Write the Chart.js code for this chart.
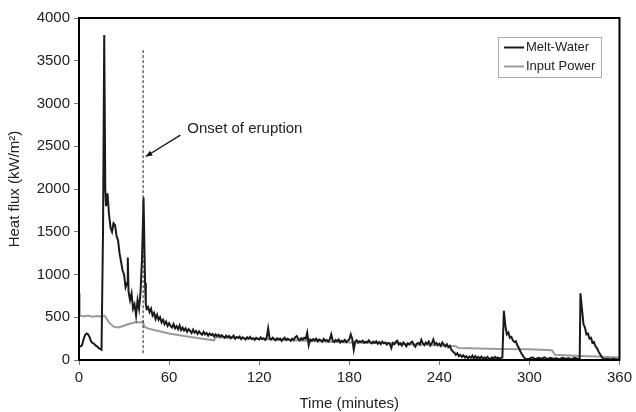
<!DOCTYPE html>
<html>
<head>
<meta charset="utf-8">
<script src="https://cdn.jsdelivr.net/npm/chart.js@4.4.1/dist/chart.umd.min.js"></script>
<style>
  html, body { margin: 0; padding: 0; background: #fff; }
  #wrap { width: 636px; height: 412px; }
</style>
</head>
<body>
<div id="wrap"><canvas id="fluxChart" width="636" height="412"></canvas></div>
<script>
// Melt-water heat flux
const meltTime = [
  0, 1, 2, 3, 4, 5, 6, 7, 8, 9, 10, 11, 12, 13, 14, 15,
  16, 16.8, 17.5, 18, 19, 20, 21, 22, 23, 24, 25, 26, 27, 28, 29, 30,
  31, 32, 32.5, 33, 34, 35, 36, 37, 38, 39, 40, 41, 42, 43, 44, 44.5,
  45, 46, 47, 48, 49, 50, 51, 52, 53, 54, 55, 56, 57, 58, 59, 60,
  61, 62, 63, 64, 65, 66, 67, 68, 69, 70,
  71, 72, 73, 74, 75, 76, 77, 78, 79, 80,
  81, 82, 83, 84, 85, 86, 87, 88, 89, 90,
  91, 92, 93, 94, 95, 96, 97, 98, 99, 100,
  101, 102, 103, 104, 105, 106, 107, 108, 109, 110,
  111, 112, 113, 114, 115, 116, 117, 118, 119, 120,
  121, 122, 123, 124, 125, 126, 127, 128, 129, 130,
  131, 132, 133, 134, 135, 136, 137, 138, 139, 140,
  141, 142, 143, 144, 145, 146, 147, 148, 149, 150,
  151, 152, 153, 154, 155, 156, 157, 158, 159, 160,
  161, 162, 163, 164, 165, 166, 167, 168, 169, 170,
  171, 172, 173, 174, 175, 176, 177, 178, 179, 180,
  181, 182, 183, 184, 185, 186, 187, 188, 189, 190,
  191, 192, 193, 194, 195, 196, 197, 198, 199, 200,
  201, 202, 203, 204, 205, 206, 207, 208, 209, 210,
  211, 212, 213, 214, 215, 216, 217, 218, 219, 220,
  221, 222, 223, 224, 225, 226, 227, 228, 229, 230,
  231, 232, 233, 234, 235, 236, 237, 238, 239, 240,
  241, 242, 243, 244, 245, 246, 247, 248, 249, 250,
  251, 252, 253, 254, 255, 256, 257, 258, 259, 260,
  261, 262, 263, 264, 265, 266, 267, 268, 269, 270,
  271, 272, 273, 274, 275, 276, 277, 278, 279, 280,
  281, 282, 283, 284, 285, 286, 287, 288, 289, 290,
  291, 292, 293, 294, 295, 296, 297, 298, 300, 302,
  304, 306, 308, 310, 312, 314, 316, 318, 320, 322,
  324, 326, 328, 330, 332, 333.5, 334, 335, 336, 337,
  338, 339, 340, 341, 342, 343, 344, 345, 346, 347,
  348, 349, 350, 352, 354, 356, 358, 360
];
const meltFlux = [
  150, 160, 170, 240, 290, 310, 300, 270, 220, 200, 190, 170, 160, 140, 130, 120,
  1500, 3800, 2000, 1800, 1950, 1700, 1550, 1500, 1600, 1580, 1450, 1400, 1250, 1150, 1050, 1000,
  850, 900, 1200, 800, 700, 780, 600, 650, 520, 700, 600, 800, 1200, 1900, 900, 650,
  600, 620, 560, 600, 520, 550, 480, 530, 470, 500, 440, 470, 420, 450, 400, 430,
  400, 380, 420, 370, 395, 360, 405, 350, 380, 345,
  370, 330, 360, 340, 315, 355, 320, 340, 305, 335,
  310, 295, 330, 300, 315, 285, 310, 290, 305, 275,
  300, 280, 295, 270, 290, 275, 260, 285, 265, 280,
  255, 270, 285, 250, 270, 260, 275, 245, 265, 255,
  240, 265, 250, 270, 245, 255, 235, 260, 250, 240,
  265, 245, 255, 235, 260, 370, 250, 240, 260, 245,
  230, 255, 240, 250, 225, 245, 260, 235, 250, 240,
  225, 250, 235, 265, 280, 245, 230, 255, 240, 260,
  250, 320, 175, 240, 225, 245, 230, 250, 220, 240,
  230, 215, 245, 225, 235, 215, 240, 300, 225, 210,
  235, 220, 240, 205, 225, 215, 235, 210, 225, 240,
  300, 250, 120, 215, 230, 205, 220, 210, 225, 200,
  215, 205, 230, 210, 195, 215, 200, 220, 190, 210,
  185, 215, 195, 205, 180, 200, 190, 140, 200, 185,
  215, 225, 180, 195, 170, 205, 185, 160, 195, 180,
  205, 215, 175, 155, 190, 200, 180, 235, 195, 175,
  205, 190, 215, 170, 195, 240, 185, 200, 175, 190,
  165, 205, 180, 160, 185, 150, 165, 120, 100, 85,
  60, 80, 45, 60, 35, 55, 30, 45, 20, 40,
  25, 50, 15, 45, 20, 35, 15, 40, 20, 30,
  15, 35, 20, 10, 30, 15, 35, 20, 30, 15,
  25, 30, 575, 400, 300, 320, 260, 270, 230, 210,
  220, 170, 140, 100, 70, 40, 20, 10, 15, 30,
  10, 25, 15, 30, 10, 25, 15, 20, 10, 25,
  15, 20, 10, 25, 15, 20, 780, 600, 420, 380,
  300, 310, 250, 260, 200, 210, 160, 140, 100, 70,
  40, 20, 10, 15, 5, 15, 5, 10
];

// Input power
const powerTime = [0, 0.5, 3, 6, 9, 12, 15, 17, 20, 23, 26, 29, 32, 35, 38, 41, 42.5, 43.5,
  46, 50, 55, 60, 70, 80, 90, 91, 120, 150, 180, 210, 240, 251, 253, 280, 300, 315, 317, 330, 345, 360];
const powerFlux = [780, 520, 510, 520, 505, 515, 510, 520, 440, 390, 380, 395, 415, 430, 445, 440, 450, 390,
  370, 350, 330, 310, 280, 255, 230, 270, 245, 225, 205, 195, 170, 160, 140, 130, 125, 115, 60, 50, 40, 30];

const xTicks = [0, 60, 120, 180, 240, 300, 360];
const yTicks = [0, 500, 1000, 1500, 2000, 2500, 3000, 3500, 4000];

// annotation (data coordinates)
const onsetTime = 42.7;
const onsetRange = [80, 3630];
const arrowFrom = [67.5, 2630];
const arrowTo = [44.5, 2380];
const onsetLabel = "Onset of eruption";

const FONT = "'Liberation Sans', Arial, sans-serif";

const frameAndNotes = {
  id: "frameAndNotes",
  afterDatasetsDraw(chart) {
    const { ctx, chartArea: a, scales: { x, y } } = chart;
    ctx.save();
    // box frame
    ctx.strokeStyle = "#000";
    ctx.lineWidth = 2;
    ctx.strokeRect(a.left, a.top, a.right - a.left, a.bottom - a.top);

    // dashed onset line
    const lx = x.getPixelForValue(onsetTime);
    ctx.lineWidth = 1;
    ctx.strokeStyle = "#222";
    ctx.setLineDash([3, 2]);
    ctx.beginPath();
    ctx.moveTo(lx, y.getPixelForValue(onsetRange[0]));
    ctx.lineTo(lx, y.getPixelForValue(onsetRange[1]));
    ctx.stroke();
    ctx.setLineDash([]);

    // arrow
    const x1 = x.getPixelForValue(arrowFrom[0]), y1 = y.getPixelForValue(arrowFrom[1]);
    const x2 = x.getPixelForValue(arrowTo[0]), y2 = y.getPixelForValue(arrowTo[1]);
    ctx.strokeStyle = "#111";
    ctx.lineWidth = 1.3;
    ctx.beginPath();
    ctx.moveTo(x1, y1);
    ctx.lineTo(x2, y2);
    ctx.stroke();
    const ang = Math.atan2(y2 - y1, x2 - x1);
    ctx.fillStyle = "#111";
    ctx.beginPath();
    ctx.moveTo(x2, y2);
    ctx.lineTo(x2 - 7 * Math.cos(ang - 0.4), y2 - 7 * Math.sin(ang - 0.4));
    ctx.lineTo(x2 - 7 * Math.cos(ang + 0.4), y2 - 7 * Math.sin(ang + 0.4));
    ctx.closePath();
    ctx.fill();

    ctx.font = "15px " + FONT;
    ctx.fillStyle = "#222";
    ctx.textBaseline = "middle";
    ctx.textAlign = "left";
    ctx.fillText(onsetLabel, x1 + 7, y1 - 6);

    // legend
    const lgX = 498, lgY = 37, lgW = 103, lgH = 40;
    ctx.fillStyle = "#fff";
    ctx.fillRect(lgX, lgY, lgW, lgH);
    ctx.strokeStyle = "#aaa";
    ctx.lineWidth = 1;
    ctx.strokeRect(lgX + 0.5, lgY + 0.5, lgW, lgH);
    ctx.font = "13px " + FONT;
    chart.data.datasets.forEach((ds, i) => {
      const ry = lgY + 10.5 + i * 19;
      ctx.strokeStyle = ds.borderColor;
      ctx.lineWidth = 2;
      ctx.beginPath();
      ctx.moveTo(lgX + 6, ry);
      ctx.lineTo(lgX + 26, ry);
      ctx.stroke();
      ctx.fillStyle = "#222";
      ctx.fillText(ds.label, lgX + 28, ry);
    });
    ctx.restore();
  }
};

const ctx = document.getElementById("fluxChart").getContext("2d");
new Chart(ctx, {
  type: "line",
  data: {
    datasets: [
      {
        label: "Melt-Water",
        data: meltTime.map((t, i) => ({ x: t, y: meltFlux[i] })),
        borderColor: "#1a1a1a",
        borderWidth: 2,
        pointRadius: 0,
        tension: 0
      },
      {
        label: "Input Power",
        data: powerTime.map((t, i) => ({ x: t, y: powerFlux[i] })),
        borderColor: "#9a9a9a",
        borderWidth: 2,
        pointRadius: 0,
        tension: 0
      }
    ]
  },
  options: {
    responsive: false,
    animation: false,
    layout: { padding: { top: 18, right: 13, left: 0, bottom: 0 } },
    plugins: { legend: { display: false }, tooltip: { enabled: false } },
    scales: {
      x: {
        type: "linear",
        min: 0,
        max: 360,
        afterBuildTicks: (s) => { s.ticks = xTicks.map((v) => ({ value: v })); },
        afterFit: (s) => { s.height = 52; },
        ticks: { color: "#222", font: { family: FONT, size: 15 }, padding: 4, callback: (v) => String(v) },
        grid: { drawOnChartArea: false, tickLength: 5, color: "#777" },
        border: { color: "#000", width: 2 },
        title: { display: true, text: "Time (minutes)", color: "#222", font: { family: FONT, size: 15 }, padding: { top: 0, bottom: -1 } }
      },
      y: {
        min: 0,
        max: 4000,
        afterBuildTicks: (s) => { s.ticks = yTicks.map((v) => ({ value: v })); },
        afterFit: (s) => { s.width = 79; },
        ticks: { color: "#222", font: { family: FONT, size: 15 }, padding: 4, callback: (v) => String(v) },
        grid: { drawOnChartArea: false, tickLength: 5, color: "#777" },
        border: { color: "#000", width: 2 },
        title: { display: true, text: "Heat flux (kW/m²)", color: "#222", font: { family: FONT, size: 15 }, padding: { top: 6, bottom: 0 } }
      }
    }
  },
  plugins: [frameAndNotes]
});
</script>
</body>
</html>
